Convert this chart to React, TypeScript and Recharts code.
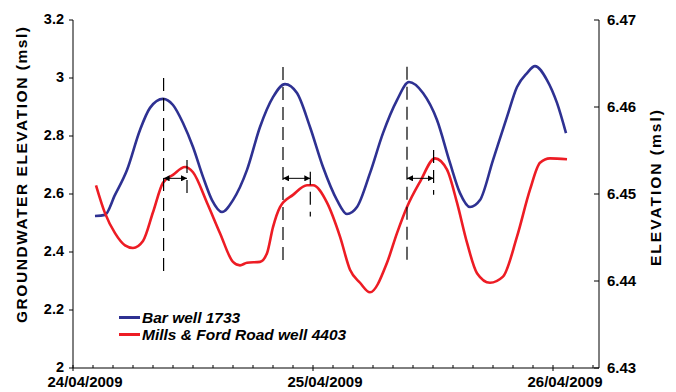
import { LineChart, Line, XAxis, YAxis, ReferenceLine, Legend } from "recharts";

const FONT = '"Liberation Sans", Arial, Helvetica, sans-serif';

// hours since 24/04/2009 00:00
const dayLabels = ["24/04/2009", "25/04/2009", "26/04/2009"];
const hourTicks = [0, 2, 4, 6, 8, 10, 12, 14, 16, 18, 20, 22, 24, 26, 28, 30, 32, 34, 36, 38, 40, 42, 44, 46, 48, 50, 52];
const leftTicks = [2, 2.2, 2.4, 2.6, 2.8, 3, 3.2];
const rightTicks = [6.43, 6.44, 6.45, 6.46, 6.47];

// Bar well 1733 (left axis)
const barWell = [
	{ h: 2.2, v: 2.524 }, { h: 3.2, v: 2.528 }, { h: 4.2, v: 2.597 }, { h: 5.4, v: 2.683 },
	{ h: 6.7, v: 2.821 }, { h: 7.7, v: 2.897 }, { h: 9.0, v: 2.928 }, { h: 10.0, v: 2.907 },
	{ h: 11.0, v: 2.845 }, { h: 12.0, v: 2.762 }, { h: 13.0, v: 2.659 }, { h: 13.9, v: 2.579 },
	{ h: 14.9, v: 2.538 }, { h: 16.0, v: 2.579 }, { h: 17.4, v: 2.683 }, { h: 18.7, v: 2.831 },
	{ h: 20.0, v: 2.934 }, { h: 21.2, v: 2.979 }, { h: 22.4, v: 2.948 }, { h: 23.7, v: 2.831 },
	{ h: 25.0, v: 2.693 }, { h: 26.4, v: 2.579 }, { h: 27.4, v: 2.531 }, { h: 28.4, v: 2.555 },
	{ h: 29.7, v: 2.672 }, { h: 31.0, v: 2.81 }, { h: 32.4, v: 2.924 }, { h: 33.6, v: 2.986 },
	{ h: 35.0, v: 2.948 }, { h: 36.4, v: 2.855 }, { h: 37.7, v: 2.707 }, { h: 38.7, v: 2.603 },
	{ h: 39.7, v: 2.555 }, { h: 40.7, v: 2.579 }, { h: 42.0, v: 2.717 }, { h: 43.4, v: 2.866 },
	{ h: 44.4, v: 2.969 }, { h: 45.4, v: 3.017 }, { h: 46.2, v: 3.041 }, { h: 47.4, v: 2.993 },
	{ h: 48.4, v: 2.914 }, { h: 49.3, v: 2.81 },
];

// Mills & Ford Road well 4403 (right axis)
const millsFord = [
	{ h: 2.3, v: 6.451 }, { h: 3.2, v: 6.4478 }, { h: 4.2, v: 6.4455 }, { h: 5.2, v: 6.4441 },
	{ h: 6.0, v: 6.4438 }, { h: 7.0, v: 6.4446 }, { h: 8.0, v: 6.4479 }, { h: 9.0, v: 6.4513 },
	{ h: 10.0, v: 6.4522 }, { h: 11.2, v: 6.4531 }, { h: 12.0, v: 6.4525 }, { h: 13.4, v: 6.449 },
	{ h: 14.7, v: 6.4455 }, { h: 16.0, v: 6.4422 }, { h: 16.7, v: 6.4418 }, { h: 17.4, v: 6.4421 },
	{ h: 18.7, v: 6.4422 }, { h: 19.4, v: 6.4432 }, { h: 20.0, v: 6.4462 }, { h: 20.7, v: 6.4485 },
	{ h: 22.0, v: 6.4499 }, { h: 23.4, v: 6.451 }, { h: 24.0, v: 6.451 }, { h: 25.4, v: 6.449 },
	{ h: 26.7, v: 6.4451 }, { h: 27.7, v: 6.4413 }, { h: 28.7, v: 6.4398 }, { h: 29.7, v: 6.4387 },
	{ h: 31.4, v: 6.4421 }, { h: 32.4, v: 6.4455 }, { h: 33.4, v: 6.4485 }, { h: 34.7, v: 6.4514 },
	{ h: 36.2, v: 6.4541 }, { h: 37.4, v: 6.4528 }, { h: 38.4, v: 6.449 }, { h: 39.4, v: 6.4444 },
	{ h: 40.4, v: 6.4409 }, { h: 41.7, v: 6.4398 }, { h: 43.0, v: 6.4405 }, { h: 44.4, v: 6.4451 },
	{ h: 45.7, v: 6.4505 }, { h: 46.7, v: 6.4536 }, { h: 47.7, v: 6.4541 }, { h: 49.4, v: 6.454 },
];

// lag annotations, in left-axis units
const peakMarks = [
	{ h: 9.06, top: 3.0, bottom: 2.314 },
	{ h: 21.0, top: 3.038, bottom: 2.348 },
	{ h: 33.4, top: 3.039, bottom: 2.349 },
];
const lagMarks = [
	{ h: 11.4, top: 2.717, bottom: 2.586 },
	{ h: 23.73, top: 2.677, bottom: 2.522 },
	{ h: 36.06, top: 2.752, bottom: 2.597 },
];
const lagArrows = [
	{ from: 9.06, to: 11.4, y: 2.654 },
	{ from: 21.0, to: 23.73, y: 2.654 },
	{ from: 33.4, to: 36.06, y: 2.654 },
];

function HourTick(props: any) {
	const { x, y, payload } = props;
	const h = payload.value as number;
	const major = h % 24 === 0;
	return (
		<g>
			<line x1={x} x2={x} y1={y - 3} y2={major ? y + 3 : y} stroke="#000" strokeWidth={1} />
			{major && (
				<text x={x + 12} y={y + 19} textAnchor="middle" fontSize={15} fontWeight="bold" fill="#000" fontFamily={FONT}>
					{dayLabels[h / 24]}
				</text>
			)}
		</g>
	);
}

function LeftTick(props: any) {
	const { x, y, payload } = props;
	return (
		<text x={x} y={y + 4} textAnchor="end" fontSize={14.5} fontWeight="bold" fill="#000" fontFamily={FONT}>
			{String(payload.value)}
		</text>
	);
}

function RightTick(props: any) {
	const { x, y, payload } = props;
	return (
		<g>
			<line x1={x - 5} x2={x} y1={y} y2={y} stroke="#000" strokeWidth={1} />
			<text x={x + 8} y={y + 5} fontSize={15} fontWeight="bold" fill="#000" fontFamily={FONT}>
				{(payload.value as number).toFixed(2)}
			</text>
		</g>
	);
}

function AxisTitle({ cx, cy, len, text }: { cx: number; cy: number; len: number; text: string }) {
	return (
		<text
			x={cx}
			y={cy}
			transform={`rotate(-90 ${cx} ${cy})`}
			textAnchor="middle"
			dominantBaseline="central"
			fontSize={15.5}
			fontWeight="bold"
			fill="#000"
			fontFamily={FONT}
			textLength={len}
			lengthAdjust="spacing"
		>
			{text}
		</text>
	);
}

const renderLegend = ({ payload }: any) => (
	<div style={{ fontFamily: FONT, fontWeight: "bold", fontStyle: "italic", fontSize: 15.5, lineHeight: "17px", color: "#000" }}>
		{(payload || []).map((p: any) => (
			<div key={p.value} style={{ display: "flex", alignItems: "center", whiteSpace: "nowrap" }}>
				<span style={{ display: "inline-block", width: 21, height: 3, background: p.color, marginRight: 2 }} />
				{p.value}
			</div>
		))}
	</div>
);

export default function App() {
	return (
		<div style={{ position: "absolute", left: 0, top: 0, fontFamily: FONT }}>
			<LineChart width={676} height={392} margin={{ top: 20, right: 0, bottom: 0, left: 0 }}>
				<defs>
					<marker id="arrowHead" viewBox="0 0 6 6" refX="6" refY="3" markerWidth="6" markerHeight="6" markerUnits="userSpaceOnUse" orient="auto-start-reverse">
						<path d="M0,0 L6,3 L0,6 z" fill="#000" />
					</marker>
				</defs>
				<XAxis
					dataKey="h"
					type="number"
					domain={[0, 52.6]}
					ticks={hourTicks}
					interval={0}
					height={24}
					tickSize={0}
					tickMargin={0}
					tickLine={false}
					tick={<HourTick />}
					axisLine={{ stroke: "#000" }}
					allowDataOverflow
				/>
				<YAxis
					yAxisId="left"
					domain={[2, 3.2]}
					ticks={leftTicks}
					width={73}
					tickSize={4}
					tickMargin={5}
					tick={<LeftTick />}
					tickLine={{ stroke: "#000" }}
					axisLine={{ stroke: "#000" }}
					label={<AxisTitle cx={21} cy={175} len={296} text="GROUNDWATER ELEVATION (msl)" />}
				/>
				<YAxis
					yAxisId="right"
					orientation="right"
					domain={[6.43, 6.47]}
					ticks={rightTicks}
					width={77}
					tickSize={0}
					tickMargin={0}
					tickLine={false}
					tick={<RightTick />}
					axisLine={{ stroke: "#000" }}
					label={<AxisTitle cx={655} cy={188} len={156} text="ELEVATION (msl)" />}
				/>
				<Legend
					layout="vertical"
					align="center"
					verticalAlign="middle"
					wrapperStyle={{ left: 119, top: 309, width: 260 }}
					content={renderLegend}
				/>
				<Line
					yAxisId="left"
					data={barWell}
					dataKey="v"
					name="Bar well 1733"
					type="monotone"
					stroke="#2E3192"
					strokeWidth={2.6}
					dot={false}
					isAnimationActive={false}
				/>
				<Line
					yAxisId="right"
					data={millsFord}
					dataKey="v"
					name="Mills & Ford Road well 4403"
					type="monotone"
					stroke="#ED1C24"
					strokeWidth={2.6}
					dot={false}
					isAnimationActive={false}
				/>
				{peakMarks.map((m, i) => (
					<ReferenceLine
						key={"peak" + i}
						yAxisId="left"
						segment={[{ x: m.h, y: m.top }, { x: m.h, y: m.bottom }]}
						stroke="#000"
						strokeWidth={1.2}
						strokeDasharray="13 7"
					/>
				))}
				{lagMarks.map((m, i) => (
					<ReferenceLine
						key={"lag" + i}
						yAxisId="left"
						segment={[{ x: m.h, y: m.top }, { x: m.h, y: m.bottom }]}
						stroke="#000"
						strokeWidth={1.2}
						strokeDasharray="13 7"
					/>
				))}
				{lagArrows.map((a, i) => (
					<ReferenceLine
						key={"arrow" + i}
						yAxisId="left"
						segment={[{ x: a.from, y: a.y }, { x: a.to, y: a.y }]}
						stroke="#000"
						strokeWidth={1}
						markerStart="url(#arrowHead)"
						markerEnd="url(#arrowHead)"
					/>
				))}
			</LineChart>
		</div>
	);
}
